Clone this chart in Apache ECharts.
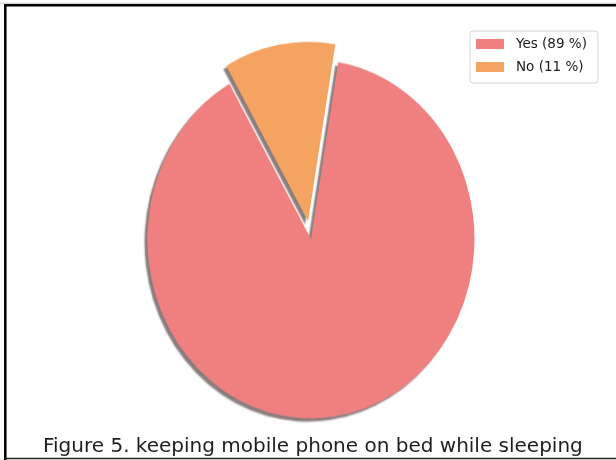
<!DOCTYPE html>
<html>
<head>
<meta charset="utf-8">
<script src="https://cdn.jsdelivr.net/npm/echarts@6/dist/echarts.min.js"></script>
<style>
  html, body { margin: 0; padding: 0; background: #ffffff; }
  #stage { position: relative; width: 616px; height: 460px; overflow: hidden; }
  #pie, #overlay { position: absolute; left: 0; top: 0; width: 616px; height: 460px; }
  /* the pie axes are not equal-aspect, so the disc is stretched vertically */
  #pie { transform-origin: 311px 239px; transform: scaleY(1.097); }
</style>
</head>
<body>
<div id="stage">
  <div id="pie"></div>
  <div id="overlay"></div>
</div>
<script>
// Answers to "keeping mobile phone on bed while sleeping"
const categories = ['Yes', 'No'];
const shares = [89, 11];          // percent of respondents
const explodedCategory = 'No';
const captionText = 'Figure 5. keeping mobile phone on bed while sleeping';

const palette = ['#F08080', '#F4A460'];   // lightcoral, sandybrown
const FONT = '"DejaVu Sans", "Noto Sans", sans-serif';

const legendLabel = {};
categories.forEach((c, i) => { legendLabel[c] = c + ' (' + shares[i] + ' %)'; });

const pieData = categories.map((c, i) => ({
  name: c,
  value: shares[i],
  selected: c === explodedCategory,
  itemStyle: { color: palette[i] }
}));

const pieChart = echarts.init(document.getElementById('pie'), null, { renderer: 'canvas' });
pieChart.setOption({
  animation: false,
  backgroundColor: 'transparent',
  series: [{
    type: 'pie',
    center: [311, 239],
    radius: [0, 163.5],
    startAngle: 120,
    clockwise: false,
    selectedMode: 'single',
    selectedOffset: 16.5,
    avoidLabelOverlap: false,
    label: { show: false },
    labelLine: { show: false },
    emphasis: { disabled: true },
    itemStyle: {
      borderWidth: 0,
      shadowColor: 'rgba(70, 45, 45, 0.62)',
      shadowBlur: 1.5,
      shadowOffsetX: -3,
      shadowOffsetY: 3
    },
    data: pieData
  }]
});

// Legend, caption and frame sit on an unstretched layer above the pie
const overlay = echarts.init(document.getElementById('overlay'), null, { renderer: 'canvas' });
overlay.setOption({
  animation: false,
  backgroundColor: 'transparent',
  legend: {
    orient: 'vertical',
    left: 470,
    top: 31,
    padding: [6, 11, 9, 6],
    itemWidth: 28,
    itemHeight: 10,
    itemGap: 9,
    icon: 'rect',
    backgroundColor: 'rgba(255,255,255,0.85)',
    borderColor: '#d4d4d4',
    borderWidth: 1,
    borderRadius: 3,
    selectedMode: false,
    formatter: name => legendLabel[name],
    textStyle: {
      fontFamily: FONT,
      fontSize: 13.5,
      color: '#1a1a1a',
      lineHeight: 14,
      padding: [0, 0, 0, 7]
    },
    data: categories
  },
  title: {
    text: captionText,
    left: 43,
    top: 437,
    padding: 0,
    textStyle: {
      fontFamily: FONT,
      fontSize: 20,
      fontWeight: 'normal',
      color: '#1e1e1e'
    }
  },
  graphic: [
    { type: 'line', silent: true, shape: { x1: 0, y1: 3.2, x2: 616, y2: 3.2 },
      style: { stroke: '#c8c8c8', lineWidth: 1 } },
    { type: 'polyline', silent: true,
      shape: { points: [[5.3, 460], [5.3, 5.3], [616, 5.3]] },
      style: { stroke: '#000000', lineWidth: 2.5, fill: null } },
    { type: 'line', silent: true, shape: { x1: 4, y1: 458.5, x2: 616, y2: 458.5 },
      style: { stroke: '#222222', lineWidth: 1.6 } }
  ],
  // legend entries take their swatches from this zero-size copy of the series
  series: [{
    type: 'pie',
    radius: [0, 0],
    silent: true,
    label: { show: false },
    labelLine: { show: false },
    data: pieData.map(d => ({ name: d.name, value: d.value, itemStyle: d.itemStyle }))
  }]
});
</script>
</body>
</html>
